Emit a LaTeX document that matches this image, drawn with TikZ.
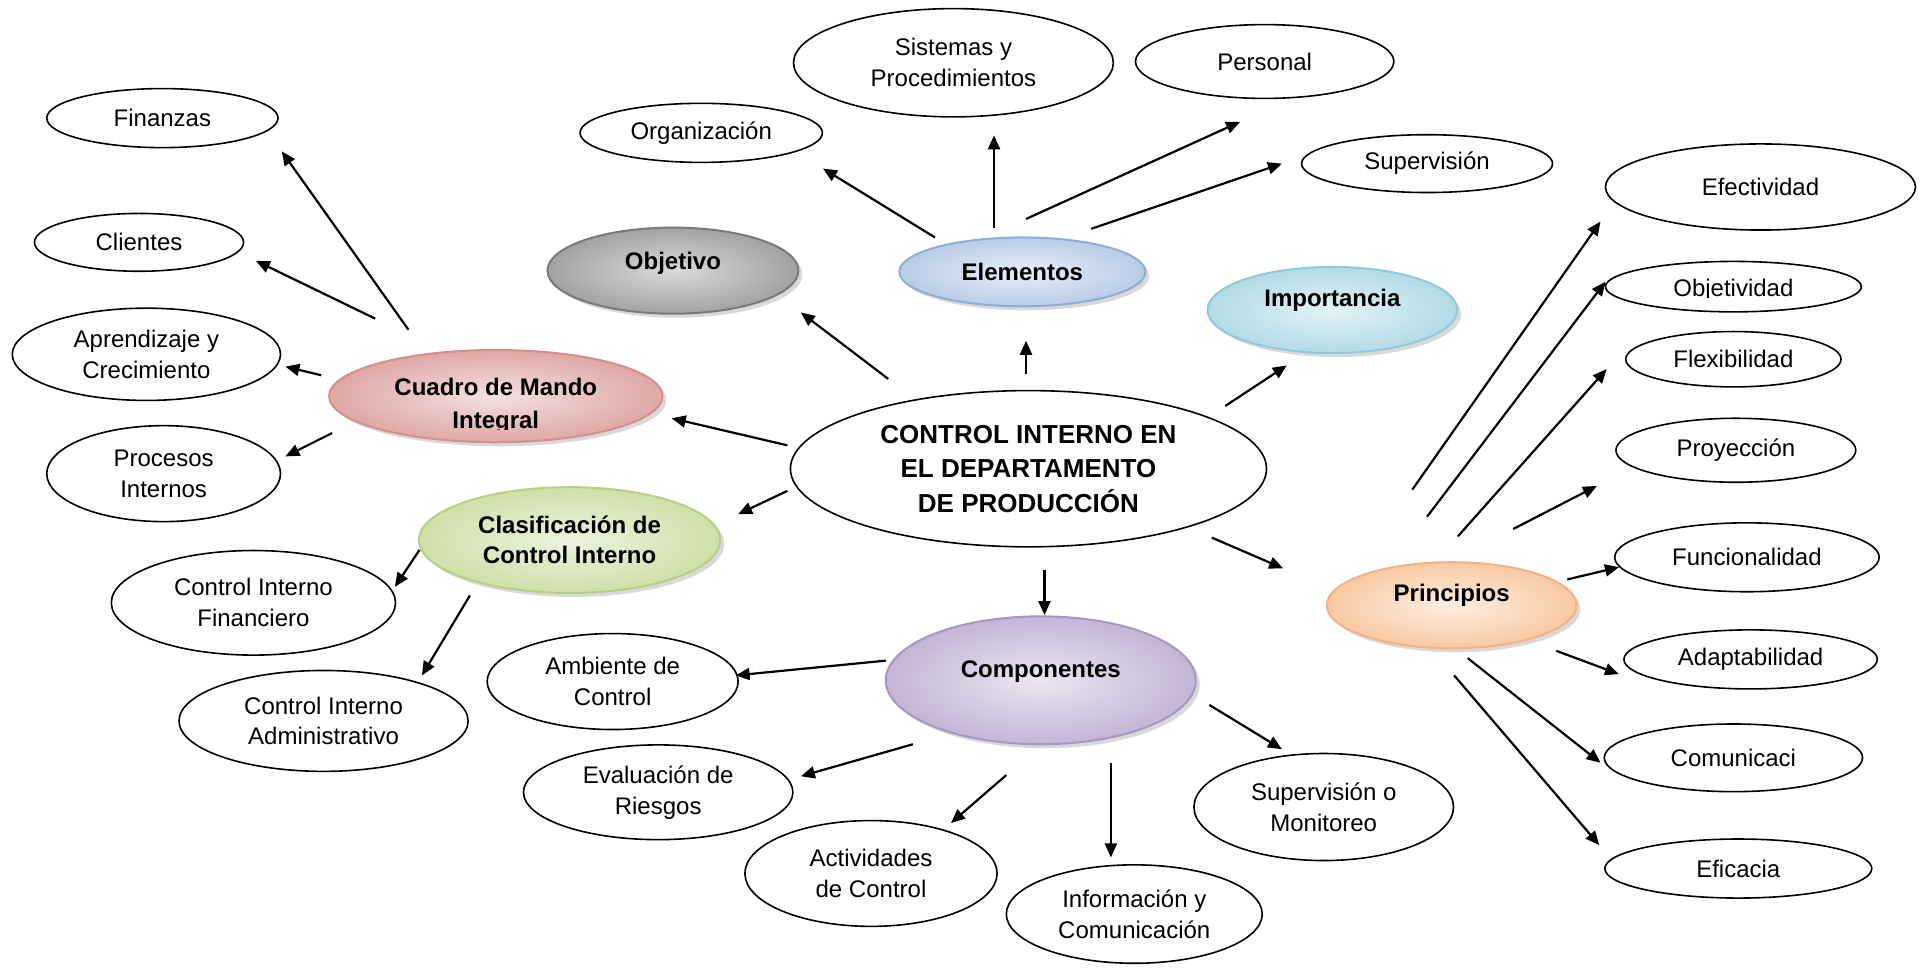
\documentclass[tikz,border=0pt]{standalone}
\usepackage{fontspec}
\setmainfont{Liberation Sans}
\usetikzlibrary{shapes.geometric,arrows.meta,calc,shadows}
\begin{document}
\begin{tikzpicture}[x=0.6151pt, y=-0.6151pt,
  wel/.style n args={2}{ellipse, draw, line width=0.8pt, fill=white,
    minimum width=#1*0.6151pt, minimum height=#2*0.6151pt, inner sep=0pt,
    align=center, font=\fontsize{12}{15.4}\selectfont},
  cel/.style n args={2}{ellipse, line width=1pt,
    minimum width=#1*0.6151pt, minimum height=#2*0.6151pt, inner sep=0pt,
    drop shadow={opacity=0.3, shadow xshift=2pt, shadow yshift=-2pt}},
  tint/.style n args={3}{draw=#3, inner color=#1, outer color=#2},
  btxt/.style={font=\bfseries\fontsize{12}{14.8}\selectfont, align=center, inner sep=0pt},
  rtxt/.style={font=\fontsize{12}{15.4}\selectfont, inner sep=0pt},
  arr/.style={-{Triangle[length=7pt,width=6pt]}, line width=1.1pt}
]
\definecolor{grayA}{HTML}{DADADA}\definecolor{grayB}{HTML}{A2A2A2}\definecolor{grayC}{HTML}{7A7A7A}
\definecolor{blueA}{HTML}{E9EFF8}\definecolor{blueB}{HTML}{B9CBE6}\definecolor{blueC}{HTML}{8EAED8}
\definecolor{cyanA}{HTML}{E4F2F6}\definecolor{cyanB}{HTML}{B2DBE6}\definecolor{cyanC}{HTML}{92C9D9}
\definecolor{peachA}{HTML}{FDEEE2}\definecolor{peachB}{HTML}{F9C9A2}\definecolor{peachC}{HTML}{F4B183}
\definecolor{pinkA}{HTML}{F4E1E1}\definecolor{pinkB}{HTML}{DFA7A6}\definecolor{pinkC}{HTML}{D28F8D}
\definecolor{greenA}{HTML}{EEF3E1}\definecolor{greenB}{HTML}{CFE0A8}\definecolor{greenC}{HTML}{B7CF85}
\definecolor{lavA}{HTML}{EBE6F0}\definecolor{lavB}{HTML}{C3B5D6}\definecolor{lavC}{HTML}{A896C2}

\useasboundingbox (0,0) rectangle (1568,787);

% central topic
\node[wel={387}{127}, font=\bfseries\fontsize{13}{17.2}\selectfont] (ctrl) at (836,381)
  {CONTROL INTERNO EN\\EL DEPARTAMENTO\\DE PRODUCCIÓN};

% coloured category ellipses
\node[cel={204}{70}, tint={grayA}{grayB}{grayC}] (obj) at (547,220) {};
\node[btxt] at (547,214) {Objetivo};
\node[cel={200}{56}, tint={blueA}{blueB}{blueC}] (elem) at (831,221) {};
\node[btxt] at (831,221) {Elementos};
\node[cel={203}{70}, tint={cyanA}{cyanB}{cyanC}] (imp) at (1083,252) {};
\node[btxt] at (1083,244) {Importancia};
\node[cel={271}{75}, tint={pinkA}{pinkB}{pinkC}] (cmi) at (403,322) {};
\node[btxt, anchor=base] at (403,321.5) {Cuadro de Mando};
\begin{scope}
  \clip (300,330) rectangle (500,349.5);
  \node[btxt, anchor=base] at (403,348.5) {Integral};
\end{scope}
\node[cel={245}{86}, tint={greenA}{greenB}{greenC}] (clas) at (463,439) {};
\node[btxt] at (463,439) {Clasificación de\\Control Interno};
\node[cel={252}{104}, tint={lavA}{lavB}{lavC}] (comp) at (846,553) {};
\node[btxt] at (846,546) {Componentes};
\node[cel={203}{70}, tint={peachA}{peachB}{peachC}] (prin) at (1180,492) {};
\node[btxt] at (1180,484) {Principios};

% leaf ellipses
\node[wel={188}{48}] (fin) at (132,96) {Finanzas};
\node[wel={170}{47}] (cli) at (113,197) {Clientes};
\node[wel={218}{75}] (apr) at (119,288) {Aprendizaje y\\Crecimiento};
\node[wel={190}{78}] (pro) at (133,385) {Procesos\\Internos};
\node[wel={231}{85}] (cif) at (206,490) {Control Interno\\Financiero};
\node[wel={235}{82}] (cia) at (263,586) {Control Interno\\Administrativo};
\node[wel={204}{78}] (amb) at (498,554) {Ambiente de\\Control};
\node[wel={219}{77}] (eva) at (535,644) {Evaluación de\\Riesgos};
\node[wel={205}{86}] (act) at (708,710) {Actividades\\de Control};
\node[wel={208}{80}] (inf) at (922,743) {Información y\\Comunicación};
\node[wel={211}{87}] (som) at (1076,656) {Supervisión o\\Monitoreo};
\node[wel={197}{48}] (org) at (570,108) {Organización};
\node[wel={260}{88}] (sis) at (775,51) {Sistemas y\\Procedimientos};
\node[wel={210}{60}] (per) at (1028,50) {Personal};
\node[wel={204}{47}] (sup) at (1160,133) {Supervisión};
\node[wel={252}{70}] (efe) at (1431,152) {Efectividad};
\node[wel={208}{41}] (obv) at (1409,233) {};
\begin{scope}
  \clip (1300,200) rectangle (1520,241.5);
  \node[rtxt, anchor=base] at (1409,241) {Objetividad};
\end{scope}
\node[wel={175}{45}] (fle) at (1409,292) {Flexibilidad};
\node[wel={195}{52}] (pry) at (1411,366) {Proyección};
\node[wel={215}{56}] (fun) at (1420,453) {Funcionalidad};
\node[wel={206}{48}] (ada) at (1423,536) {Adaptabilidad};
\node[wel={210}{55}] (com) at (1409,616) {Comunicaci};
\node[wel={217}{48}] (efi) at (1413,706) {Eficacia};

% arrows from the central topic
\draw[arr] ($(ctrl)+(-114,-73)$) -- ($(obj)+(104,34)$);
\draw[arr] ($(ctrl)+(-2,-77)$) -- ($(elem)+(3,56)$);
\draw[arr] ($(ctrl)+(160,-51)$) -- ($(imp)+(-37,45)$);
\draw[arr] ($(ctrl)+(-196,-19)$) -- ($(cmi)+(143,18)$);
\draw[arr] ($(ctrl)+(-196,18)$) -- ($(clas)+(137,-21)$);
\draw[arr] ($(ctrl)+(149,56)$) -- ($(prin)+(-137,-30)$);
\draw[arr] ($(ctrl)+(13,82)$) -- ($(comp)+(3,-53)$);

% Elementos
\draw[arr] ($(elem)+(-71,-28)$) -- ($(org)+(99,29)$);
\draw[arr] ($(elem)+(-23,-36)$) -- ($(sis)+(33,59)$);
\draw[arr] ($(elem)+(3,-43)$) -- ($(per)+(-20,49)$);
\draw[arr] ($(elem)+(56,-35)$) -- ($(sup)+(-118,0)$);

% Cuadro de Mando Integral
\draw[arr] ($(cmi)+(-71,-54)$) -- ($(fin)+(97,27)$);
\draw[arr] ($(cmi)+(-98,-63)$) -- ($(cli)+(95,15)$);
\draw[arr] ($(cmi)+(-142,-17)$) -- ($(apr)+(113,10)$);
\draw[arr] ($(cmi)+(-133,30)$) -- ($(pro)+(99,-14)$);

% Clasificación de Control Interno
\draw[arr] ($(clas)+(-122,8)$) -- ($(cif)+(115,-13)$);
\draw[arr] ($(clas)+(-81,45)$) -- ($(cia)+(80,-37)$);

% Componentes
\draw[arr] ($(comp)+(-126,-16)$) -- ($(amb)+(100,-5)$);
\draw[arr] ($(comp)+(-104,52)$) -- ($(eva)+(116,-13)$);
\draw[arr] ($(comp)+(-28,77)$) -- ($(act)+(65,-41)$);
\draw[arr] ($(comp)+(57,67)$) -- ($(inf)+(-19,-46)$);
\draw[arr] ($(comp)+(137,20)$) -- ($(som)+(-34,-47)$);

% Principios
\draw[arr] ($(prin)+(-32,-94)$) -- ($(efe)+(-130,28)$);
\draw[arr] ($(prin)+(-20,-72)$) -- ($(obv)+(-104,-4)$);
\draw[arr] ($(prin)+(5,-56)$) -- ($(fle)+(-103,8)$);
\draw[arr] ($(prin)+(50,-62)$) -- ($(pry)+(-113,29)$);
\draw[arr] ($(prin)+(94,-21)$) -- ($(fun)+(-104,8)$);
\draw[arr] ($(prin)+(85,37)$) -- ($(ada)+(-107,12)$);
\draw[arr] ($(prin)+(13,43)$) -- ($(com)+(-108,4)$);
\draw[arr] ($(prin)+(2,57)$) -- ($(efi)+(-113,-19)$);
\end{tikzpicture}
\end{document}
